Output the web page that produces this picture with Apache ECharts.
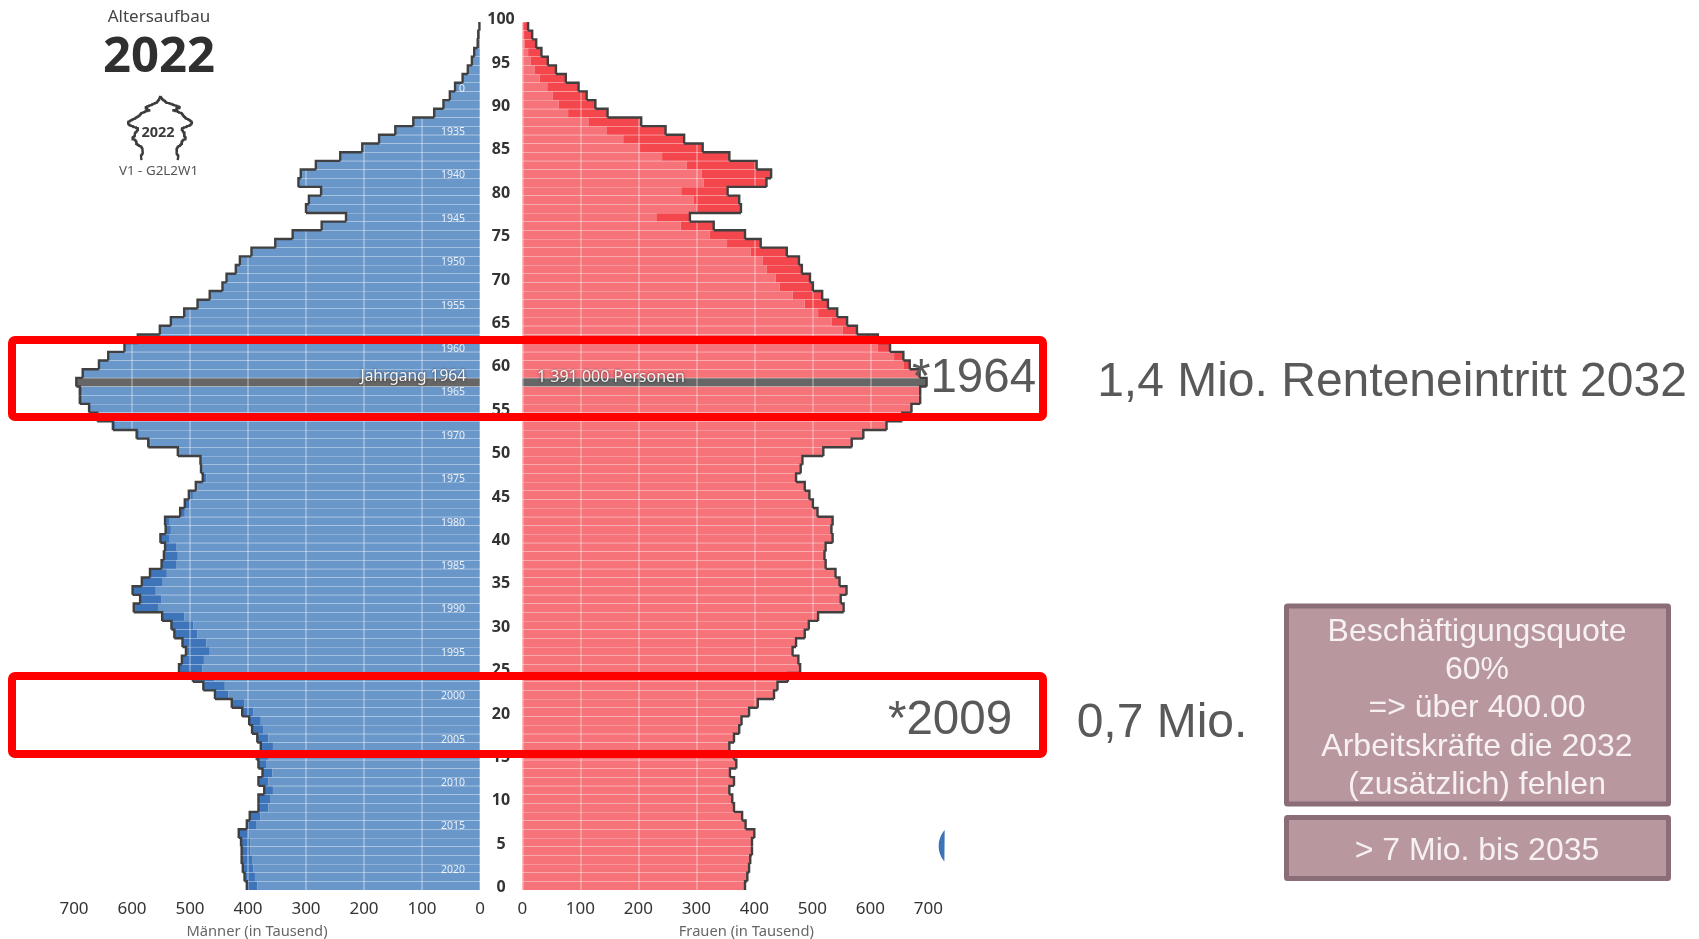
<!DOCTYPE html>
<html>
<head>
<meta charset="utf-8">
<title>Altersaufbau 2022</title>
<script src="https://cdn.jsdelivr.net/npm/echarts@6/dist/echarts.min.js"></script>
<style>
  html, body { margin: 0; padding: 0; background: #fff; }
  #chart { width: 1699px; height: 939px; }
</style>
</head>
<body>
<div id="chart"></div>
<script>
// age 0 first, age 99 last, values in thousand
const men = [402,406,409,411,411,412,416,402,397,382,
  382,372,382,375,382,385,378,384,393,398,
  410,428,457,477,495,519,514,507,513,527,
  532,548,597,586,599,583,569,549,545,543,
  551,542,543,517,509,502,490,478,481,482,
  521,572,592,633,660,674,690,690,696,685,
  657,641,613,590,552,533,510,487,466,444,
  437,421,414,394,353,323,273,231,300,295,
  274,313,309,283,241,203,174,146,115,79,
  63,52,43,30,21,14,10,4,3,1];
const women = [384,388,391,393,396,396,400,385,379,365,
  362,357,365,358,369,365,357,365,374,378,
  391,406,434,440,458,479,476,466,472,487,
  494,510,554,549,559,547,540,523,521,523,
  535,533,535,509,501,495,487,472,480,483,
  519,568,588,628,655,671,686,686,697,685,
  668,657,634,613,577,560,543,527,517,501,
  496,482,477,456,411,384,330,289,377,374,
  354,421,429,404,357,311,279,247,205,147,
  126,111,97,75,58,44,33,24,17,10];
const ages = Array.from({length: 101}, (_, i) => i);
const xTicks = [0,100,200,300,400,500,600,700];
const highlightAge = 58;

const blue = '#6a97ca', blueDark = '#3e75ba';
const red = '#f7737a', redDark = '#f4464d';
const grey = '#666666';
const sans = '"Noto Sans"', arial = '"Liberation Sans"';

const yearLabels = ages.map(a => {
  const y = 2022 - a;
  if (y === 1930) return '0';
  return y > 1930 && y % 5 === 0 ? String(y) : '';
});

function overlap(a, b) { return a.map((v, i) => Math.min(v, b[i])); }
function excess(a, b) { return a.map((v, i) => Math.max(v - b[i], 0)); }
function paint(vals) {
  return vals.map((v, i) => i === highlightAge ? {value: v, itemStyle: {color: grey}} : v);
}

function barSeries(name, axis, vals, color, stack) {
  return {
    name, type: 'bar', xAxisIndex: axis, yAxisIndex: axis === 0 ? 0 : 2, stack,
    barCategoryGap: 0, silent: true, z: 2,
    itemStyle: {color},
    data: paint(vals)
  };
}

// stepped outline around one half of the pyramid
function outlineSeries(axis, vals) {
  return {
    type: 'custom', xAxisIndex: axis, yAxisIndex: axis === 0 ? 0 : 2, silent: true, z: 6,
    data: vals.map((v, i) => [v, i]),
    encode: {x: 0, y: 1},
    renderItem: (params, api) => {
      const i = api.value(1);
      const p = api.coord([api.value(0), i]);
      const h = api.size([0, 1])[1] / 2;
      const pts = [[p[0], p[1] + h], [p[0], p[1] - h]];
      if (i < vals.length - 1) pts.push([api.coord([vals[i + 1], i + 1])[0], p[1] - h]);
      return {type: 'polyline', shape: {points: pts}, style: {stroke: '#404040', lineWidth: 2.4, fill: null}};
    }
  };
}

function txt(text, x, y, font, fill, align) {
  return {
    type: 'text', z: 20, x, y,
    style: {text, font, fill, align: align || 'center', verticalAlign: 'middle'}
  };
}
function shadowTxt(text, x, y, size, align) {
  const t = txt(text, x, y, size + 'px ' + sans, '#f4f4f4', align);
  t.style.textShadowBlur = 3; t.style.textShadowColor = 'rgba(0,0,0,0.7)';
  t.style.shadowBlur = 3; t.style.shadowColor = 'rgba(0,0,0,0.7)';
  return t;
}
function frame(x, y, w, h, stroke, lineWidth, fill, r) {
  return {
    type: 'rect', z: 15, shape: {x, y, width: w, height: h, r},
    style: {stroke, lineWidth, fill: fill || null}
  };
}

// little silhouette in the header, same data, much smaller
function iconLine(vals, sign) {
  const pts = [];
  vals.forEach((v, i) => {
    pts.push([160 + sign * v * 0.046, 160 - i * 0.64]);
    pts.push([160 + sign * v * 0.046, 160 - (i + 1) * 0.64]);
  });
  return {type: 'polyline', z: 20, shape: {points: pts}, style: {stroke: '#3c3c3c', lineWidth: 2, fill: null}};
}

// cut-off blue disc at the edge of the source picture
const discPts = [];
for (let d = -41; d <= 41; d += 3) {
  discPts.push([963 - 24.3 * Math.cos(d * Math.PI / 180), 846 + 24.3 * Math.sin(d * Math.PI / 180)]);
}

const boxLines = ['Beschäftigungsquote', '60%', '=> über 400.00', 'Arbeitskräfte die 2032', '(zusätzlich) fehlen'];
const boxLineY = [632, 670, 708, 747, 785];

const graphics = [
  txt('Altersaufbau', 159, 17, '17px ' + sans, '#444'),
  txt('2022', 159, 58, 'bold 49px ' + sans, '#2f2f2f'),
  iconLine(men, -1), iconLine(women, 1),
  txt('2022', 158, 133, 'bold 14.5px ' + sans, '#3c3c3c'),
  txt('V1 - G2L2W1', 158.5, 171, '13.4px ' + sans, '#555'),
  shadowTxt('Jahrgang 1964', 466, 377, 15.5, 'right'),
  shadowTxt('1 391 000 Personen', 537, 377, 16, 'left'),
  frame(12, 340, 1031, 77, '#ff0000', 8, null, 3),
  frame(12, 676, 1031, 78, '#ff0000', 8, null, 3),
  txt('*1964', 974, 379, '47.5px ' + arial, '#595959'),
  txt('*2009', 950, 721, '47.5px ' + arial, '#595959'),
  txt('1,4 Mio. Renteneintritt 2032', 1392, 383, '48px ' + arial, '#595959'),
  txt('0,7 Mio.', 1162, 724, '48px ' + arial, '#595959'),
  {type: 'polygon', z: 20, shape: {points: discPts}, style: {fill: '#3d72b8'}},
  frame(1286.5, 606, 382, 198, '#8a6d76', 5, '#b9979f', 1),
  frame(1286.5, 817.5, 382, 61, '#8a6d76', 5, '#b9979f', 1),
  ...boxLines.map((l, i) => txt(l, 1477, boxLineY[i], '32px ' + arial, '#f7f1f3')),
  txt('> 7 Mio. bis 2035', 1477, 851, '32px ' + arial, '#f7f1f3')
];

function xAxisFor(grid, inverse, name, padding) {
  return {
    type: 'value', gridIndex: grid, min: 0, max: 700, interval: 100, inverse, z: 5,
    name, nameLocation: 'middle', nameGap: 34,
    nameTextStyle: {fontFamily: sans, fontSize: 14.7, color: '#666', padding},
    axisLine: {show: false}, axisTick: {show: false},
    axisLabel: {fontFamily: sans, fontSize: 17, color: '#333', margin: 11,
      customValues: xTicks, showMinLabel: true, showMaxLabel: true},
    splitLine: {show: true, lineStyle: {color: 'rgba(255,255,255,0.38)', width: 1.5}}
  };
}
const rowLines = {show: true, interval: 0, lineStyle: {color: 'rgba(255,255,255,0.24)', width: 1}};

const chart = echarts.init(document.getElementById('chart'), null, {renderer: 'canvas'});
chart.setOption({
  animation: false,
  backgroundColor: '#fff',
  grid: [
    {left: 74, width: 406, top: 13.3, height: 876.7, outerBoundsMode: 'none'},
    {left: 522.3, width: 406, top: 13.3, height: 876.7, outerBoundsMode: 'none'}
  ],
  xAxis: [
    xAxisFor(0, true, 'Männer (in Tausend)', [0, 40, 0, 0]),
    xAxisFor(1, false, 'Frauen (in Tausend)', [0, 0, 0, 42])
  ],
  yAxis: [
    {
      type: 'category', gridIndex: 0, position: 'right', data: ages, z: 3,
      axisLine: {show: false}, axisTick: {show: false},
      splitLine: rowLines,
      axisLabel: {interval: 4, align: 'center', margin: 21, verticalAlign: 'top', lineHeight: 4, fontFamily: sans, fontWeight: 'bold', fontSize: 16, color: '#333'}
    },
    {
      type: 'category', gridIndex: 0, position: 'right', data: yearLabels, z: 7,
      axisLine: {show: false}, axisTick: {show: false},
      axisLabel: {inside: true, interval: 0, margin: 15, verticalAlign: 'top', lineHeight: 3, fontFamily: sans, fontSize: 10.5, color: 'rgba(255,255,255,0.85)'}
    },
    {
      type: 'category', gridIndex: 1, data: ages, z: 3,
      axisLine: {show: false}, axisTick: {show: false}, axisLabel: {show: false},
      splitLine: rowLines
    }
  ],
  series: [
    barSeries('Männer', 0, overlap(men, women), blue, 'm'),
    barSeries('Männerüberschuss', 0, excess(men, women), blueDark, 'm'),
    barSeries('Frauen', 1, overlap(women, men), red, 'f'),
    barSeries('Frauenüberschuss', 1, excess(women, men), redDark, 'f'),
    outlineSeries(0, men),
    outlineSeries(1, women)
  ],
  graphic: graphics
});
</script>
</body>
</html>
